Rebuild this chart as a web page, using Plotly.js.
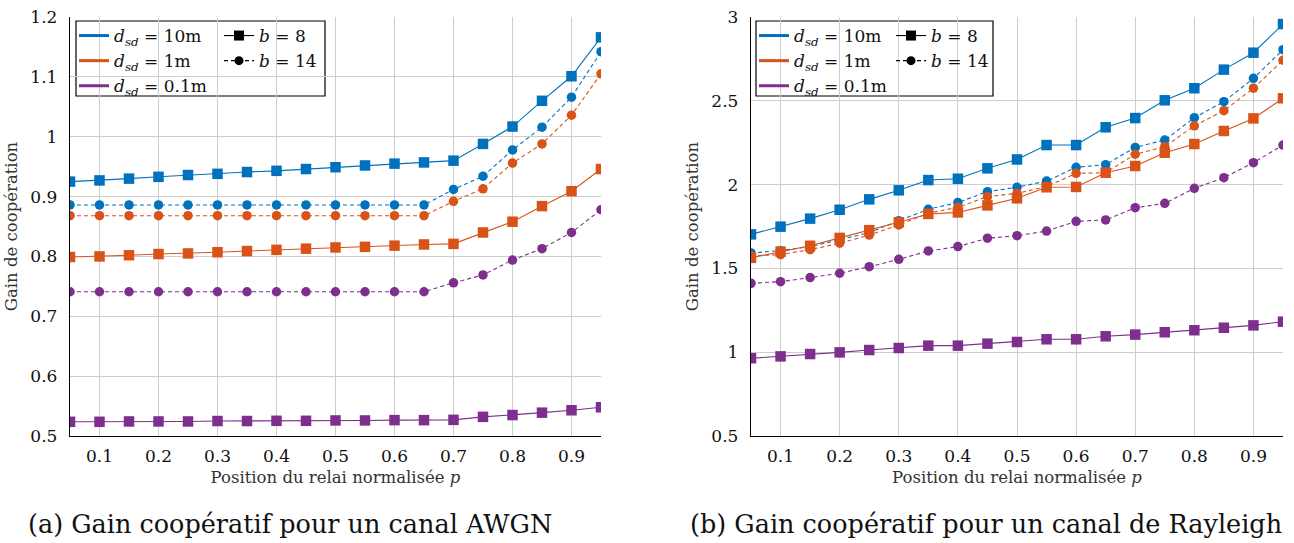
<!DOCTYPE html>
<html>
<head>
<meta charset="utf-8">
<script src="https://cdn.plot.ly/plotly-3.0.1.min.js"></script>
<style>html,body{margin:0;padding:0;background:#fff;}#chart{width:1294px;height:543px;}</style>
</head>
<body>
<div id="chart"></div>
<script>
// ---- Data ----
const p = [0.05,0.1,0.15,0.2,0.25,0.3,0.35,0.4,0.45,0.5,0.55,0.6,0.65,0.7,0.75,0.8,0.85,0.9,0.95];

// (a) AWGN
const awgn_10m_b8  = [0.925,0.927,0.930,0.933,0.936,0.938,0.941,0.943,0.946,0.949,0.952,0.955,0.957,0.960,0.988,1.017,1.060,1.101,1.166];
const awgn_10m_b14 = [0.886,0.886,0.886,0.886,0.886,0.886,0.886,0.886,0.886,0.886,0.886,0.886,0.886,0.912,0.934,0.978,1.016,1.066,1.142];
const awgn_1m_b8   = [0.799,0.800,0.802,0.804,0.805,0.807,0.809,0.811,0.813,0.815,0.816,0.818,0.820,0.821,0.840,0.858,0.884,0.909,0.946];
const awgn_1m_b14  = [0.868,0.868,0.868,0.868,0.868,0.868,0.868,0.868,0.868,0.868,0.868,0.868,0.868,0.892,0.913,0.956,0.988,1.036,1.105];
const awgn_01m_b8  = [0.5237,0.5237,0.5243,0.5243,0.5243,0.525,0.525,0.5254,0.5254,0.526,0.526,0.5265,0.5265,0.527,0.532,0.535,0.539,0.543,0.548];
const awgn_01m_b14 = [0.741,0.741,0.741,0.741,0.741,0.741,0.741,0.741,0.741,0.741,0.741,0.741,0.741,0.756,0.769,0.794,0.813,0.840,0.878];

// (b) Rayleigh
const ray_10m_b8  = [1.703,1.749,1.797,1.850,1.912,1.966,2.027,2.035,2.097,2.150,2.236,2.236,2.342,2.397,2.503,2.575,2.686,2.787,2.958];
const ray_10m_b14 = [1.592,1.606,1.630,1.670,1.713,1.785,1.853,1.893,1.958,1.984,2.021,2.103,2.119,2.222,2.266,2.399,2.495,2.634,2.805];
const ray_1m_b8   = [1.563,1.600,1.635,1.682,1.728,1.775,1.825,1.834,1.876,1.918,1.984,1.986,2.071,2.111,2.190,2.242,2.320,2.395,2.515];
const ray_1m_b14  = [1.575,1.582,1.612,1.650,1.699,1.759,1.829,1.865,1.928,1.948,1.988,2.067,2.071,2.181,2.226,2.351,2.441,2.575,2.742];
const ray_01m_b8  = [0.964,0.975,0.989,0.999,1.013,1.025,1.039,1.039,1.051,1.061,1.077,1.077,1.095,1.105,1.119,1.131,1.146,1.160,1.182];
const ray_01m_b14 = [1.411,1.421,1.445,1.471,1.510,1.554,1.604,1.630,1.680,1.695,1.723,1.781,1.789,1.862,1.888,1.978,2.041,2.131,2.236];

// Ticks and labels
const xTickVals = [0.1,0.2,0.3,0.4,0.5,0.6,0.7,0.8,0.9];
const xTickText = ['0.1','0.2','0.3','0.4','0.5','0.6','0.7','0.8','0.9'];
const yTickValsA = [0.5,0.6,0.7,0.8,0.9,1.0,1.1,1.2];
const yTickTextA = ['0.5','0.6','0.7','0.8','0.9','1','1.1','1.2'];
const yTickValsB = [0.5,1,1.5,2,2.5,3];
const yTickTextB = ['0.5','1','1.5','2','2.5','3'];

const distLabels = ['<i>d</i><sub><i>sd</i></sub> = 10m','<i>d</i><sub><i>sd</i></sub> = 1m','<i>d</i><sub><i>sd</i></sub> = 0.1m'];
const bitLabels = ['<i>b</i> = 8','<i>b</i> = 14'];
const captionA = '(a) Gain coopératif pour un canal AWGN';
const captionB = '(b) Gain coopératif pour un canal de Rayleigh';
const xTitle = 'Position du relai normalisée <i>p</i>';
const yTitle = 'Gain de coopération';

// ---- Styles ----
const colors = ['#0072BD','#D95319','#7E2F8E'];
const FONT = 'DejaVu Serif';

function series(y, ci, b14, xa, ya) {
  return {
    x: p, y: y, xaxis: xa, yaxis: ya, type: 'scatter', mode: 'lines+markers',
    showlegend: false, hoverinfo: 'skip',
    line: {color: colors[ci], width: 1.1, dash: b14 ? '4px,3px' : 'solid'},
    marker: {color: colors[ci], symbol: b14 ? 'circle' : 'square', size: b14 ? 9.5 : 10.5, line: {width: 0}}
  };
}

const traces = [];
traces.push(series(awgn_10m_b14,0,true,'x','y'));
traces.push(series(awgn_1m_b14,1,true,'x','y'));
traces.push(series(awgn_01m_b14,2,true,'x','y'));
traces.push(series(awgn_10m_b8,0,false,'x','y'));
traces.push(series(awgn_1m_b8,1,false,'x','y'));
traces.push(series(awgn_01m_b8,2,false,'x','y'));
traces.push(series(ray_10m_b14,0,true,'x2','y2'));
traces.push(series(ray_1m_b14,1,true,'x2','y2'));
traces.push(series(ray_01m_b14,2,true,'x2','y2'));
traces.push(series(ray_10m_b8,0,false,'x2','y2'));
traces.push(series(ray_1m_b8,1,false,'x2','y2'));
traces.push(series(ray_01m_b8,2,false,'x2','y2'));

function legendEntries(xa, ya, lgColor, lgBit) {
  distLabels.forEach((lab, i) => traces.push({
    x: [null], y: [null], xaxis: xa, yaxis: ya, type: 'scatter', mode: 'lines',
    name: lab, legend: lgColor, showlegend: true,
    line: {color: colors[i], width: 3}
  }));
  bitLabels.forEach((lab, i) => traces.push({
    x: [null], y: [null], xaxis: xa, yaxis: ya, type: 'scatter', mode: 'lines+markers',
    name: lab, legend: lgBit, showlegend: true,
    line: {color: '#000', width: 1.1, dash: i ? '4px,3px' : 'solid'},
    marker: {color: '#000', symbol: i ? 'circle' : 'square', size: i ? 9 : 10}
  }));
}
legendEntries('x','y','legend','legend2');
legendEntries('x2','y2','legend3','legend4');

const W = 1294, H = 543;
const px = v => v / W;
const py = v => (H - v) / H;

const gridC = 'rgb(205,205,205)';
function xaxisDef(domain, anchor) {
  return {
    domain: domain, anchor: anchor, range: [0.05, 0.95],
    tickvals: xTickVals, ticktext: xTickText, ticks: '', ticklabelstandoff: 4,
    showgrid: true, gridcolor: gridC, gridwidth: 1,
    showline: true, linecolor: '#000', linewidth: 1.2, zeroline: false,
    tickfont: {family: FONT, size: 17, color: '#111'},
    title: {text: xTitle, font: {family: FONT, size: 16.5, color: '#333'}, standoff: 6}
  };
}
function yaxisDef(range, tv, tt, anchor) {
  return {
    domain: [py(436), py(17)], anchor: anchor, range: range,
    tickvals: tv, ticktext: tt, ticks: '', ticklabelstandoff: 8,
    showgrid: true, gridcolor: gridC, gridwidth: 1,
    showline: true, linecolor: '#000', linewidth: 1.2, zeroline: false,
    tickfont: {family: FONT, size: 17, color: '#111'},
    title: {text: yTitle, font: {family: FONT, size: 16.5, color: '#333'}, standoff: 8}
  };
}

function legendDef(x) {
  return {
    x: x, y: py(18), xanchor: 'left', yanchor: 'top', xref: 'paper', yref: 'paper',
    bgcolor: 'rgba(0,0,0,0)', borderwidth: 0,
    font: {family: FONT, size: 17, color: '#111'},
    itemwidth: 30, tracegroupgap: 0
  };
}

const layout = {
  width: W, height: H,
  margin: {l: 0, r: 0, t: 0, b: 0},
  paper_bgcolor: '#fff', plot_bgcolor: '#fff',
  font: {family: FONT},
  xaxis: xaxisDef([px(70), px(601)], 'y'),
  yaxis: yaxisDef([0.5, 1.2], yTickValsA, yTickTextA, 'x'),
  xaxis2: xaxisDef([px(751), px(1283)], 'y2'),
  yaxis2: yaxisDef([0.5, 3], yTickValsB, yTickTextB, 'x2'),
  legend: legendDef(px(74)),
  legend2: legendDef(px(219)),
  legend3: legendDef(px(754)),
  legend4: legendDef(px(891)),
  shapes: [
    {type: 'rect', xref: 'paper', yref: 'paper', x0: px(76), x1: px(325), y0: py(96), y1: py(21),
     line: {color: '#000', width: 1.2}, fillcolor: 'rgba(255,255,255,1)', layer: 'below'},
    {type: 'rect', xref: 'paper', yref: 'paper', x0: px(756), x1: px(993), y0: py(96), y1: py(21),
     line: {color: '#000', width: 1.2}, fillcolor: 'rgba(255,255,255,1)', layer: 'below'}
  ],
  annotations: [
    {text: captionA, xref: 'paper', yref: 'paper', x: px(290), y: py(524), xanchor: 'center', yanchor: 'middle',
     showarrow: false, font: {family: FONT, size: 25.5, color: '#111'}},
    {text: captionB, xref: 'paper', yref: 'paper', x: px(986), y: py(524), xanchor: 'center', yanchor: 'middle',
     showarrow: false, font: {family: FONT, size: 25.5, color: '#111'}}
  ]
};

Plotly.newPlot('chart', traces, layout, {staticPlot: true, displayModeBar: false});
</script>
</body>
</html>
